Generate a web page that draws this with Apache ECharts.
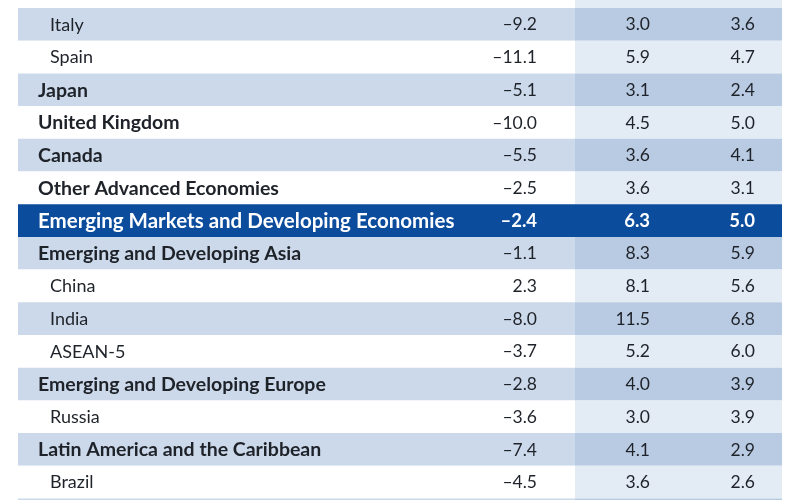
<!DOCTYPE html>
<html>
<head>
<meta charset="utf-8">
<script src="https://cdn.jsdelivr.net/npm/echarts@6/dist/echarts.min.js"></script>
<style>
html,body{margin:0;padding:0;background:#fff;}
#chart{width:800px;height:500px;}
</style>
</head>
<body>
<div id="chart"></div>
<script>
// ---- data ----
var rowLabels = [
  'France','Italy','Spain','Japan','United Kingdom','Canada','Other Advanced Economies',
  'Emerging Markets and Developing Economies','Emerging and Developing Asia','China','India',
  'ASEAN-5','Emerging and Developing Europe','Russia','Latin America and the Caribbean','Brazil','Mexico'
];
var rowIndent = [1,1,1,0,0,0,0,0,0,1,1,1,0,1,0,1,1];
var highlightRow = 'Emerging Markets and Developing Economies';
var values2020 = [-9.0,-9.2,-11.1,-5.1,-10.0,-5.5,-2.5,-2.4,-1.1,2.3,-8.0,-3.7,-2.8,-3.6,-7.4,-4.5,-8.5];
var values2021 = [5.5,3.0,5.9,3.1,4.5,3.6,3.6,6.3,8.3,8.1,11.5,5.2,4.0,3.0,4.1,3.6,4.3];
var values2022 = [4.1,3.6,4.7,2.4,5.0,4.1,3.1,5.0,5.9,5.6,6.8,6.0,3.9,3.9,2.9,2.6,2.5];

function fmt(v){ var s = Math.abs(v).toFixed(1); return v < 0 ? '\u2013' + s : s; }

var hiIndex = rowLabels.indexOf(highlightRow);
var seriesData = rowLabels.map(function(n, i){ return [0, i]; });

var chart = echarts.init(document.getElementById('chart'), null, {renderer:'canvas'});
var FONT = 'Lato, "Open Sans", sans-serif';
var C_BAND = '#ccd9ea', C_BAND_PROJ = '#b9cbe2', C_PLAIN_PROJ = '#e3ebf5', C_HI = '#0b4c9c', C_TEXT = '#1e2229';

chart.setOption({
  animation:false,
  grid:{left:18, right:18, top:0, bottom:0, containLabel:false},
  xAxis:{type:'value', min:0, max:764, show:false},
  // visible window of the row index axis (rows run past the top and bottom edges)
  yAxis:{type:'value', inverse:true, min:0.2554, max:15.546, show:false},
  series:[{
    type:'custom',
    coordinateSystem:'cartesian2d',
    clip:false,
    data:seriesData,
    encode:{x:0, y:1},
    renderItem:function(params, api){
      var i = api.value(1);
      var c = api.coord([0, i]);
      var h = Math.abs(api.size([0, 1])[1]);
      var cs = params.coordSys;
      var top = c[1] - h/2, left = cs.x, right = cs.x + cs.width;
      var projX = left + 557;
      var isHi = i === hiIndex;
      var banded = i < hiIndex ? (i % 2 === 1) : (i > hiIndex && (i - hiIndex) % 2 === 1);
      var children = [];
      if (isHi) {
        children.push({type:'rect', shape:{x:left, y:top, width:right-left, height:h}, style:{fill:C_HI}});
      } else {
        children.push({type:'rect', shape:{x:left, y:top, width:projX-left, height:h}, style:{fill: banded ? C_BAND : '#ffffff'}});
        children.push({type:'rect', shape:{x:projX, y:top, width:right-projX, height:h}, style:{fill: banded ? C_BAND_PROJ : C_PLAIN_PROJ}});
      }
      var col = isHi ? '#ffffff' : C_TEXT;
      var bold = isHi || rowIndent[i] === 0;
      children.push({type:'text', style:{
        text: rowLabels[i], x: left + 20 + rowIndent[i]*12, y: c[1] + 0.5, align:'left', verticalAlign:'middle',
        fontFamily:FONT, fontSize: isHi ? 20.5 : (bold ? 19.5 : 18), fontWeight: bold ? 'bold' : 'normal', fill: col
      }});
      var nums = [[values2020[i], left + 519], [values2021[i], left + 632], [values2022[i], left + 737]];
      nums.forEach(function(p){
        children.push({type:'text', style:{
          text: fmt(p[0]), x: p[1], y: c[1] + 0.5, align:'right', verticalAlign:'middle',
          fontFamily:FONT, fontSize: isHi ? 18.5 : 17.5, fontWeight: isHi ? 'bold' : 'normal', fill: col
        }});
      });
      return {type:'group', children:children};
    }
  }]
});
</script>
</body>
</html>
